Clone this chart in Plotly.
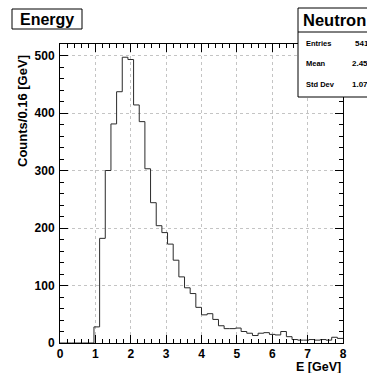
import plotly.graph_objects as go

# ---- data ----
bin_low = 0.0
bin_width = 0.16
counts = [0, 0, 0, 0, 0, 0,
          28, 182, 300, 381, 437, 497, 493, 414, 385, 303,
          244, 204, 192, 172, 144, 115, 96, 86, 62, 49,
          51, 41, 30, 25, 25, 26, 20, 17, 13, 17,
          18, 15, 14, 20, 11, 6, 5, 5, 6, 5,
          6, 5, 10, 8]
x_ticks = [0, 1, 2, 3, 4, 5, 6, 7, 8]
y_ticks = [0, 100, 200, 300, 400, 500]
stat_names = ["Entries", "Mean", "Std Dev"]
stat_values = ["5410", "2.459", "1.073"]
hist_title = "Energy"
stats_title = "Neutron"

# ---- figure geometry ----
W, H = 367, 373
L, R, T, B = 60, 343, 44, 343


def px(x):
    return (x - L) / (R - L)


def py(y):
    return (B - y) / (B - T)


edges = [bin_low + i * bin_width for i in range(len(counts) + 1)]
ys = counts + [counts[-1]]

FONT = "Liberation Sans"

fig = go.Figure()
fig.add_trace(go.Scatter(x=edges, y=ys, mode="lines", line_shape="hv",
                         line=dict(color="#2a2a2a", width=1), hoverinfo="skip",
                         showlegend=False))

axis_common = dict(
    showline=True, linecolor="black", linewidth=1, mirror="allticks",
    ticks="inside", ticklen=8, tickwidth=1, tickcolor="black",
    showgrid=True, gridcolor="#c4c4c4", griddash="dot", gridwidth=1,
    zeroline=False,
    tickfont=dict(family=FONT, size=12, color="black", weight="bold"),
)

fig.update_xaxes(range=[0, 8], tickvals=x_ticks, ticktext=[str(v) for v in x_ticks],
                 minor=dict(ticks="inside", ticklen=4, dtick=0.2, tick0=0,
                            tickcolor="black", showgrid=False),
                 **axis_common)
fig.update_yaxes(range=[0, 520], tickvals=y_ticks, ticktext=[str(v) for v in y_ticks],
                 minor=dict(ticks="inside", ticklen=4, dtick=20, tick0=0,
                            tickcolor="black", showgrid=False),
                 ticklabelstandoff=2,
                 **axis_common)

box_line = dict(color="black", width=1)
EDGE = W  # right edge of the canvas
shapes = [
    # title box
    dict(type="rect", xref="paper", yref="paper", x0=px(12), x1=px(82), y0=py(29), y1=py(9),
         line=box_line, fillcolor="white", layer="above"),
    # stats box (runs past the right edge of the canvas)
    dict(type="rect", xref="paper", yref="paper", x0=px(298), x1=px(EDGE), y0=py(97), y1=py(8),
         line=dict(width=0, color="rgba(0,0,0,0)"), fillcolor="white", layer="above"),
    dict(type="line", xref="paper", yref="paper", x0=px(298), x1=px(298), y0=py(97), y1=py(8),
         line=box_line, layer="above"),
    dict(type="line", xref="paper", yref="paper", x0=px(298), x1=px(EDGE), y0=py(8), y1=py(8),
         line=box_line, layer="above"),
    dict(type="line", xref="paper", yref="paper", x0=px(298), x1=px(EDGE), y0=py(97), y1=py(97),
         line=box_line, layer="above"),
    dict(type="line", xref="paper", yref="paper", x0=px(298), x1=px(EDGE), y0=py(32), y1=py(32),
         line=box_line, layer="above"),
]

annotations = [
    dict(text=hist_title, x=px(47), y=py(19.5), xref="paper", yref="paper", showarrow=False,
         xanchor="center", yanchor="middle",
         font=dict(family=FONT, size=16, color="black", weight="bold")),
    dict(text=stats_title, x=px(301), y=py(20.5), xref="paper", yref="paper", showarrow=False,
         xanchor="left", yanchor="middle",
         font=dict(family=FONT, size=16.5, color="black", weight="bold")),
    dict(text="Counts/0.16 [GeV]", x=px(22), y=py(53), xref="paper", yref="paper",
         showarrow=False, textangle=-90, xanchor="center", yanchor="top",
         font=dict(family=FONT, size=13, color="black", weight="bold")),
    dict(text="E [GeV]", x=px(343), y=py(367), xref="paper", yref="paper",
         showarrow=False, xanchor="right", yanchor="middle",
         font=dict(family=FONT, size=12.5, color="black", weight="bold")),
]
row_y = [43, 64, 84]
for name, val, yy in zip(stat_names, stat_values, row_y):
    annotations.append(dict(text=name, x=px(304), y=py(yy), xref="paper", yref="paper",
                            showarrow=False, xanchor="left", yanchor="middle",
                            font=dict(family=FONT, size=7.5, color="black", weight="bold")))
    annotations.append(dict(text=val, x=px(375), y=py(yy), xref="paper", yref="paper",
                            showarrow=False, xanchor="right", yanchor="middle",
                            font=dict(family=FONT, size=8, color="black", weight="bold")))

fig.update_layout(
    width=W, height=H,
    margin=dict(l=L, r=W - R, t=T, b=H - B),
    paper_bgcolor="white", plot_bgcolor="white",
    shapes=shapes, annotations=annotations,
    showlegend=False,
)

fig.write_html("out.html",
               config={"displayModeBar": False, "staticPlot": True},
               post_script="document.body.style.margin='0';"
                           "document.body.style.overflow='hidden';")
